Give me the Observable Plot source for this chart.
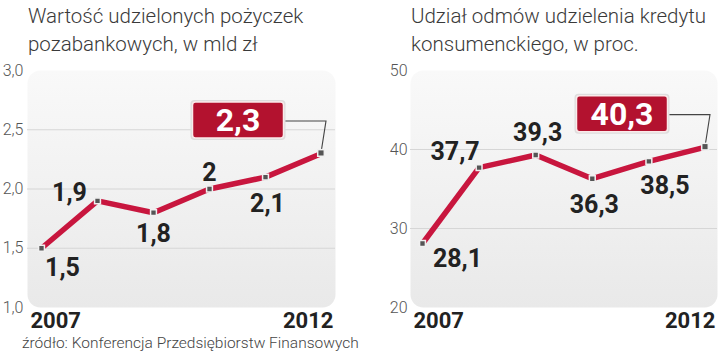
<!DOCTYPE html>
<html><head><meta charset="utf-8">
<script src="https://cdn.jsdelivr.net/npm/d3@7"></script>
<script src="https://cdn.jsdelivr.net/npm/@observablehq/plot@0.6"></script>
<style>
body{margin:0;background:#fff;font-family:Roboto,"Liberation Sans",sans-serif;}
#root{position:relative;width:720px;height:357px;overflow:hidden;background:#fff;}
.title{position:absolute;top:2px;font-size:20.5px;font-weight:300;line-height:28px;color:#3a3a3a;white-space:nowrap;}
.panel{position:absolute;top:60px;}
#src{position:absolute;left:22px;top:334px;font-size:15.5px;font-weight:300;color:#444;white-space:nowrap;}
</style></head><body>
<div id="root">
 <div class="title" style="left:28px">Wartość udzielonych pożyczek<br>pozabankowych, w mld zł</div>
 <div class="title" style="left:411px">Udział odmów udzielenia kredytu<br>konsumenckiego, w proc.</div>
 <div class="panel" id="pL" style="left:0"></div>
 <div class="panel" id="pR" style="left:360px"></div>
 <div id="src">źródło: Konferencja Przedsiębiorstw Finansowych</div>
</div>
<script>
// ---- data ----
const years = [2007, 2008, 2009, 2010, 2011, 2012];
const loans = [1.5, 1.9, 1.8, 2.0, 2.1, 2.3];
const loanLabels = ["1,5", "1,9", "1,8", "2", "2,1", "2,3"];
const refusals = [28.1, 37.7, 39.3, 36.3, 38.5, 40.3];
const refusalLabels = ["28,1", "37,7", "39,3", "36,3", "38,5", "40,3"];
const loanTicks = [1, 1.5, 2, 2.5, 3];
const loanGrid = [1.5, 2, 2.5];
const refusalTicks = [20, 30, 40, 50];
const refusalGrid = [30, 40];
const yearLabels = ["2007", "2012"];

// ---- layout (label offsets relative to points) ----
const leftOffsets = [[21, 20], [-28, -8], [0, 21], [0, -16], [2, 27]];
const rightOffsets = [[35, 15], [-24, -16], [2, -22], [2, 26], [16, 25]];

const RED = "#c8163e";

function panel({el, values, labels, ticks, grid, domain, marginLeft, marginRight, inset, tickPadding, offsets, gradId, fmt, yearDx}) {
  const data = years.map((y, i) => ({year: y, v: values[i], label: labels[i]}));
  const labelMarks = data.slice(0, -1).map((d, i) =>
    Plot.text([d], {x: "year", y: "v", text: "label", dx: offsets[i][0], dy: offsets[i][1],
      fontSize: 25, fontWeight: "bold", fill: "#222", lineAnchor: "middle",
      fontFamily: "Roboto, 'Liberation Sans', sans-serif"}));
  const plot = Plot.plot({
    width: 360, height: 275,
    marginTop: 10, marginBottom: 28, marginLeft, marginRight,
    x: {domain: [years[0], years[years.length - 1]], inset, axis: null},
    y: {domain, axis: null},
    style: {fontFamily: "Roboto, 'Liberation Sans', sans-serif", color: "#555", overflow: "visible", background: "transparent"},
    marks: [
      Plot.frame({fill: `url(#${gradId})`, rx: 13}),
      Plot.ruleY(grid, {stroke: "#d6d6d6", strokeWidth: 1.2}),
      Plot.axisY({ticks, tickSize: 0, tickPadding, tickFormat: fmt, fontSize: 16, fontWeight: 300, label: null}),
      Plot.line(data, {x: "year", y: "v", stroke: RED, strokeWidth: 5.5, strokeLinejoin: "round"}),
      Plot.dot(data, {x: "year", y: "v", symbol: "square", r: 3.3, fill: "#555", stroke: "#f0f0f0", strokeWidth: 1.5}),
      ...labelMarks,
      Plot.text([years[0]], {x: d => d, frameAnchor: "bottom", dy: 13, text: () => yearLabels[0],
        textAnchor: "start", dx: yearDx[0], fontSize: 22, fontWeight: "bold", fill: "#222", lineAnchor: "middle"}),
      Plot.text([years[years.length - 1]], {x: d => d, frameAnchor: "bottom", dy: 13, text: () => yearLabels[1],
        textAnchor: "end", dx: yearDx[1], fontSize: 22, fontWeight: "bold", fill: "#222", lineAnchor: "middle"})
    ]
  });
  const svg = d3.select(plot);
  const grad = svg.insert("defs", ":first-child").append("linearGradient")
    .attr("id", gradId).attr("x1", 0).attr("y1", 0).attr("x2", 0).attr("y2", 1);
  grad.append("stop").attr("offset", 0).attr("stop-color", "#f9f9f9");
  grad.append("stop").attr("offset", 1).attr("stop-color", "#e9e9e9");

  // callout for the last value
  const sx = plot.scale("x"), sy = plot.scale("y");
  const last = data[data.length - 1];
  const px = sx.apply(last.year), py = sy.apply(last.v);
  const cx = px - 83, cy = py - 33, w = 91, h = 36;
  const g = svg.append("g");
  g.append("path").attr("d", `M${cx + w / 2},${cy + 1}H${px + 5}L${px},${py}`)
    .attr("fill", "none").attr("stroke", "#444").attr("stroke-width", 1.1);
  g.append("rect").attr("x", cx - w / 2 - 2).attr("y", cy - h / 2 - 2).attr("width", w + 4).attr("height", h + 4)
    .attr("rx", 4).attr("fill", "#ddd");
  g.append("rect").attr("x", cx - w / 2).attr("y", cy - h / 2).attr("width", w).attr("height", h)
    .attr("rx", 3).attr("fill", "#b3122f").attr("stroke", "#fbeaea").attr("stroke-width", 1.5);
  g.append("text").attr("x", cx).attr("y", cy).attr("dy", "0.36em").attr("text-anchor", "middle")
    .attr("fill", "#fff").attr("font-size", 32).attr("font-weight", "bold").text(last.label);
  // keep the end marker on top
  g.append("rect").attr("x", px - 3.3).attr("y", py - 3.3).attr("width", 6.6).attr("height", 6.6)
    .attr("fill", "#555").attr("stroke", "#f0f0f0").attr("stroke-width", 1.5);
  document.getElementById(el).appendChild(plot);
}

panel({el: "pL", values: loans, labels: loanLabels, ticks: loanTicks, grid: loanGrid, domain: [1, 3],
  marginLeft: 27, marginRight: 25, inset: 14, tickPadding: 4, offsets: leftOffsets, gradId: "gL",
  fmt: d => d.toFixed(1).replace(".", ","), yearDx: [-11, 12]});
panel({el: "pR", values: refusals, labels: refusalLabels, ticks: refusalTicks, grid: refusalGrid, domain: [20, 50],
  marginLeft: 50, marginRight: 3, inset: 12, tickPadding: 3, offsets: rightOffsets, gradId: "gR",
  fmt: d => String(d), yearDx: [-9, 10]});
</script>
</body></html>
